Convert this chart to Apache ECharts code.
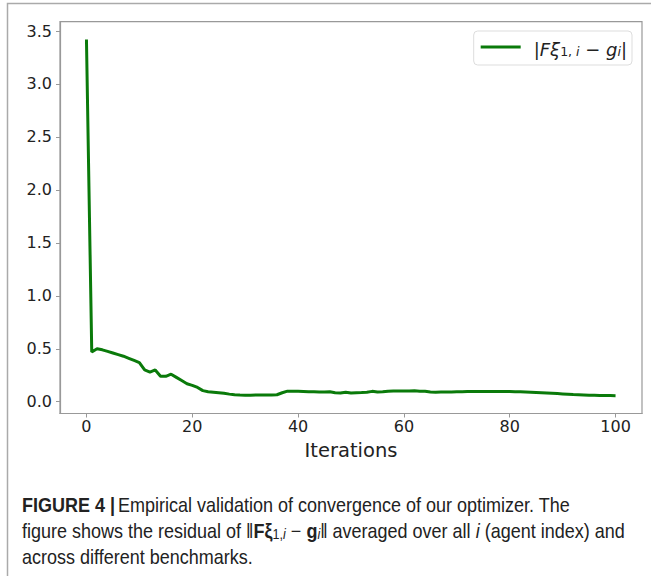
<!DOCTYPE html>
<html><head><meta charset="utf-8">
<script src="https://cdn.jsdelivr.net/npm/echarts@6/dist/echarts.min.js"></script>
<style>html,body{margin:0;padding:0;background:#fff}#c{width:651px;height:576px}</style>
</head><body><div id="c"></div>
<script>
const iterations = Array.from({length:101},(_,i)=>i);
const residual = [
3.42,0.47,0.50,0.49,0.475,0.46,0.445,0.43,0.41,0.39,
0.37,0.30,0.28,0.30,0.24,0.24,0.26,0.23,0.20,0.17,
0.155,0.135,0.105,0.095,0.09,0.085,0.08,0.072,0.065,0.063,
0.062,0.062,0.063,0.063,0.064,0.064,0.066,0.085,0.10,0.10,
0.099,0.097,0.095,0.094,0.092,0.092,0.094,0.085,0.083,0.090,
0.082,0.086,0.087,0.090,0.098,0.092,0.094,0.100,0.101,0.101,
0.102,0.102,0.103,0.100,0.098,0.092,0.090,0.091,0.092,0.093,
0.094,0.095,0.096,0.096,0.097,0.097,0.097,0.097,0.097,0.097,
0.096,0.095,0.094,0.092,0.090,0.088,0.086,0.083,0.080,0.077,
0.074,0.071,0.068,0.066,0.064,0.062,0.061,0.060,0.059,0.058,
0.057];
const xTicks = [0,20,40,60,80,100];
const yTicks = [0,0.5,1.0,1.5,2.0,2.5,3.0,3.5];
const seriesName = 'residual';
const xName = 'Iterations';

const chart = echarts.init(document.getElementById('c'), null, {renderer:'svg'});
const tickFont = {fontFamily:'DejaVu Sans', fontSize:16, color:'#222'};
const CF = 'Liberation Sans';
const CS = 20;
const SX = 0.9;
chart.setOption({
  animation:false,
  grid:{left:60, top:21.7, right:9, bottom:162.5, show:true, borderColor:'#999', borderWidth:1.2},
  xAxis:{type:'value', min:-5, max:105,
    name:xName, nameLocation:'middle', nameGap:27,
    nameTextStyle:{fontFamily:'DejaVu Sans', fontSize:19.5, color:'#222'},
    axisLine:{show:true, onZero:false, lineStyle:{color:'#999', width:1.2}},
    axisTick:{show:true, length:4, customValues:xTicks, lineStyle:{color:'#999'}},
    axisLabel:{customValues:xTicks, margin:5, ...tickFont},
    splitLine:{show:false}},
  yAxis:{type:'value', min:-0.111, max:3.588,
    axisLine:{show:true, onZero:false, lineStyle:{color:'#999', width:1.2}},
    axisTick:{show:true, length:4, customValues:yTicks, lineStyle:{color:'#999'}},
    axisLabel:{customValues:yTicks, margin:8, formatter:v=>v.toFixed(1), ...tickFont},
    splitLine:{show:false}},
  legend:{show:true, right:19, top:31, orient:'vertical',
    backgroundColor:'#fff', borderColor:'#ddd', borderWidth:1, borderRadius:4,
    padding:[7,5,7,7], icon:'rect', itemWidth:40, itemHeight:3,
    formatter:()=>'{n||}{it|Fξ}{sub|1, }{subi|i}{n| − }{it|g}{subi|i}{n||}',
    textStyle:{fontFamily:'DejaVu Sans', fontSize:18, color:'#222', padding:[0,0,0,8],
      rich:{
        n:{fontFamily:'DejaVu Sans', fontSize:18, lineHeight:22, verticalAlign:'bottom', color:'#222'},
        it:{fontFamily:'DejaVu Sans', fontStyle:'italic', fontSize:18, lineHeight:22, verticalAlign:'bottom', color:'#222'},
        sub:{fontFamily:'DejaVu Sans', fontSize:12.5, lineHeight:13, padding:[7,0,0,0], verticalAlign:'bottom', color:'#222'},
        subi:{fontFamily:'DejaVu Sans', fontStyle:'italic', fontSize:12.5, lineHeight:13, padding:[7,0,0,0], verticalAlign:'bottom', color:'#222'}
      }}},
  graphic:[
    {type:'rect', shape:{x:7.5, y:3.5, width:800, height:800}, style:{fill:null, stroke:'#aaa', lineWidth:1.5}, silent:true},
    {type:'text', x:22, y:495, scaleX:SX, style:{
      text:'{b|FIGURE 4 |} {r|Empirical validation of convergence of our optimizer. The}',
      rich:{
        b:{fontFamily:CF, fontWeight:'bold', fontSize:CS, fill:'#222'},
        r:{fontFamily:CF, fontSize:CS, fill:'#222'}
      }}},
    {type:'text', x:22, y:518, scaleX:SX, style:{
      text:'{r|figure shows the residual of ‖}{b|Fξ}{s|1,}{si|i}{r| − }{b|g}{si|i}{r|‖ averaged over all }{i|i}{r| (agent index) and}',
      rich:{
        b:{fontFamily:CF, fontWeight:'bold', fontSize:CS, lineHeight:23, verticalAlign:'bottom', fill:'#222'},
        r:{fontFamily:CF, fontSize:CS, lineHeight:23, verticalAlign:'bottom', fill:'#222'},
        i:{fontFamily:CF, fontStyle:'italic', fontSize:CS, lineHeight:23, verticalAlign:'bottom', fill:'#222'},
        s:{fontFamily:CF, fontSize:14, lineHeight:14, padding:[8,0,0,0], verticalAlign:'bottom', fill:'#222'},
        si:{fontFamily:CF, fontStyle:'italic', fontSize:14, lineHeight:14, padding:[8,0,0,0], verticalAlign:'bottom', fill:'#222'}
      }}},
    {type:'text', x:22, y:547, scaleX:SX, style:{
      text:'across different benchmarks.',
      fontFamily:CF, fontSize:CS, fill:'#222'}}
  ],
  series:[{name:seriesName, type:'line', data:iterations.map((x,i)=>[x,residual[i]]),
    symbol:'none', lineStyle:{color:'#0a7a0a', width:3}, itemStyle:{color:'#0a7a0a'}}]
});
</script></body></html>
